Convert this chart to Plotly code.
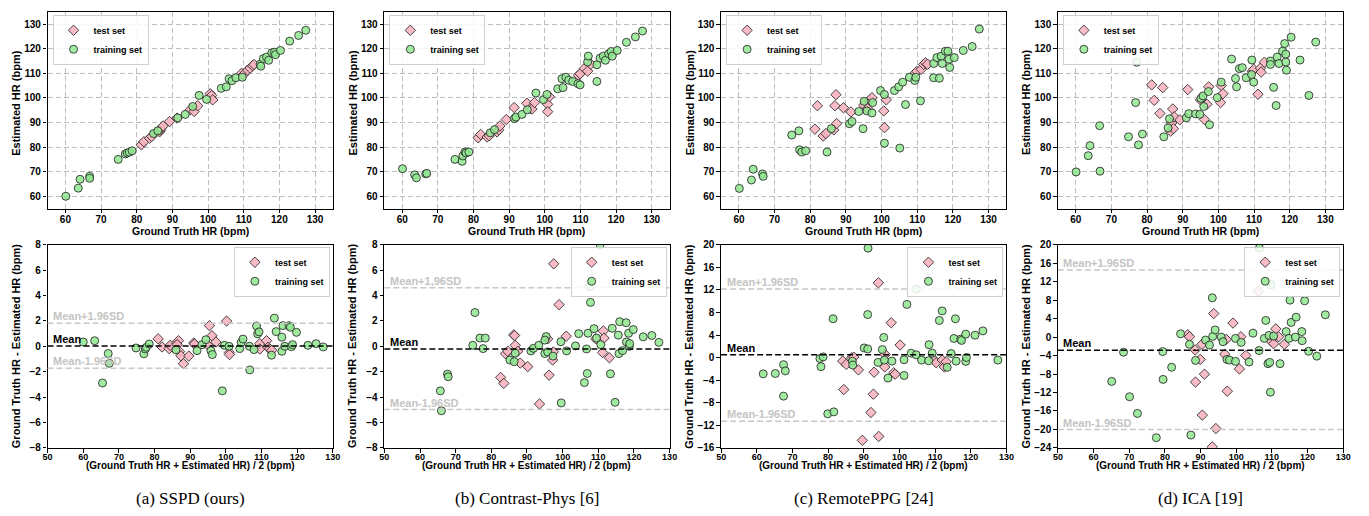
import plotly.graph_objects as go

W, H = 1369, 516

# ---------------- data: top row (Estimated vs Ground Truth) ----------------
a_test_gt = [81.3, 82.0, 83.6, 84.2, 86.4, 86.6, 86.9, 87.4, 89.2, 91.3, 95.0, 96.1, 97.1, 100.6, 101.0, 101.3, 109.4, 109.9, 111.1, 111.8, 112.5, 112.9]
a_test_est = [80.9, 82.2, 83.6, 84.3, 86.2, 86.9, 87.8, 88.6, 90.4, 91.8, 95.2, 94.5, 96.8, 101.7, 101.0, 99.2, 110.0, 109.4, 111.3, 112.1, 113.1, 113.6]
a_train_gt = [60.1, 63.6, 64.1, 66.8, 66.8, 74.8, 76.8, 77.3, 77.9, 78.7, 84.7, 85.9, 91.5, 93.6, 95.7, 97.5, 99.6, 103.7, 105.1, 105.9, 106.7, 107.8, 109.6, 114.6, 114.8, 115.5, 116.4, 117.0, 117.9, 118.6, 118.9, 120.3, 122.9, 125.4, 127.4]
a_train_est = [60.0, 63.3, 66.9, 68.1, 67.3, 75.0, 77.2, 77.6, 77.9, 78.5, 85.5, 86.6, 91.9, 93.3, 96.5, 101.0, 99.4, 103.9, 104.5, 107.8, 107.0, 108.2, 108.4, 113.7, 112.9, 116.0, 116.6, 115.3, 118.4, 118.6, 117.6, 119.3, 123.1, 125.4, 127.5]

b_test_gt = [81.3, 82.0, 83.8, 84.4, 86.6, 87.1, 87.4, 89.2, 91.4, 95.0, 95.9, 96.4, 97.1, 100.8, 100.8, 101.3, 109.4, 109.9, 111.1, 112.0, 112.9]
b_test_est = [83.8, 85.1, 84.1, 84.6, 86.2, 87.0, 88.6, 91.2, 96.1, 97.8, 95.7, 95.5, 98.1, 97.4, 94.4, 100.5, 109.2, 109.8, 112.0, 110.9, 113.7]
b_train_gt = [60.1, 63.5, 64.0, 66.6, 66.9, 74.8, 76.8, 77.0, 77.6, 77.9, 78.7, 84.7, 85.9, 91.5, 91.9, 93.6, 95.1, 97.5, 99.6, 100.6, 103.6, 104.8, 105.1, 105.9, 106.7, 107.8, 109.3, 109.9, 112.0, 112.2, 114.6, 114.6, 115.5, 116.4, 117.0, 117.9, 118.6, 118.9, 120.3, 122.9, 125.4, 127.4]
b_train_est = [71.2, 68.7, 67.5, 69.1, 69.3, 75.0, 74.2, 76.4, 78.0, 77.6, 78.0, 85.8, 87.1, 91.6, 92.2, 93.3, 95.2, 102.0, 99.3, 101.4, 103.7, 107.8, 104.2, 108.4, 107.2, 106.7, 105.8, 105.3, 114.6, 117.0, 113.5, 106.7, 116.2, 117.0, 115.3, 118.0, 118.9, 117.0, 119.3, 122.6, 124.8, 127.2]

c_test_gt = [81.3, 82.0, 83.6, 84.4, 86.6, 86.9, 87.2, 87.4, 89.3, 91.4, 95.0, 96.1, 96.8, 97.3, 100.6, 100.8, 101.3, 109.4, 109.9, 111.1, 111.8, 112.3, 112.9]
c_test_est = [87.3, 96.8, 84.5, 85.5, 87.0, 96.8, 101.3, 89.6, 96.0, 94.3, 97.1, 95.7, 99.2, 100.1, 94.7, 87.9, 99.2, 110.0, 110.8, 111.6, 113.6, 114.3, 113.7]
c_train_gt = [60.1, 63.5, 64.0, 66.6, 66.8, 74.8, 76.8, 77.0, 77.6, 78.7, 84.7, 85.9, 91.0, 91.7, 93.6, 94.8, 95.1, 95.9, 97.5, 97.3, 99.7, 100.8, 100.8, 103.6, 104.8, 105.1, 105.9, 106.7, 107.8, 109.3, 109.6, 110.9, 114.6, 114.6, 116.2, 115.5, 117.0, 116.7, 117.9, 118.6, 118.9, 119.1, 120.4, 122.9, 125.4, 127.4]
c_train_est = [63.2, 66.6, 71.0, 69.1, 68.1, 84.9, 86.6, 78.9, 78.0, 78.5, 78.0, 87.5, 89.5, 90.4, 94.5, 87.5, 98.6, 94.7, 98.1, 93.9, 103.0, 101.4, 81.6, 103.0, 104.5, 79.6, 106.4, 97.3, 108.4, 107.1, 108.4, 98.8, 108.2, 114.0, 108.0, 116.4, 114.0, 117.0, 119.0, 119.0, 115.7, 112.4, 116.4, 119.3, 120.9, 128.0]

d_test_gt = [81.3, 82.0, 83.6, 84.4, 86.6, 86.9, 87.2, 87.4, 87.6, 89.2, 91.4, 95.0, 96.1, 96.8, 97.3, 100.6, 100.8, 101.3, 109.5, 109.9, 111.1, 111.8, 112.0, 112.9]
d_test_est = [105.3, 99.0, 93.7, 104.2, 86.5, 89.8, 95.5, 87.5, 92.3, 91.1, 103.4, 99.2, 91.2, 97.4, 104.5, 98.1, 105.0, 101.7, 110.8, 111.6, 101.5, 112.1, 110.5, 114.5]
d_train_gt = [60.1, 63.5, 64.0, 66.7, 66.8, 74.8, 76.8, 77.1, 77.6, 78.7, 84.7, 85.9, 86.3, 91.0, 91.7, 93.6, 94.8, 95.1, 95.7, 95.9, 97.2, 97.5, 99.7, 100.8, 103.7, 104.8, 105.1, 105.9, 106.7, 107.8, 109.3, 109.4, 109.9, 114.6, 114.6, 115.5, 116.2, 116.5, 117.0, 118.0, 118.6, 118.9, 118.9, 119.1, 120.4, 122.9, 125.4, 127.3]
d_train_est = [69.9, 76.5, 80.6, 88.7, 70.2, 84.2, 98.1, 114.5, 80.9, 85.3, 84.2, 87.8, 91.5, 91.9, 93.6, 93.5, 93.3, 99.8, 100.8, 96.5, 102.6, 89.1, 100.1, 106.4, 115.8, 107.9, 104.5, 111.9, 112.3, 108.2, 109.5, 115.4, 106.4, 115.0, 113.6, 104.3, 96.9, 116.6, 114.0, 119.0, 122.1, 114.6, 117.8, 111.3, 124.7, 115.4, 101.0, 122.7]

# ---------------- data: bottom row (Bland-Altman) ----------------
a_ba_test_mean = [81.0, 82.1, 84.1, 84.4, 86.2, 86.7, 86.3, 87.0, 87.4, 88.1, 89.6, 91.0, 91.2, 94.8, 95.4, 96.1, 97.2, 100.2, 101.0, 101.0, 109.5, 109.5, 111.4, 111.8, 112.3, 112.9]
a_ba_test_diff = [0.59, -0.05, -0.18, 0.08, 0.26, 0.44, 0.13, -0.41, -0.75, -1.37, -0.77, 0.26, 0.18, 0.13, 1.63, 0.83, 0.34, 1.99, -0.49, -0.65, 0.21, -0.21, 0.44, -0.08, -0.21, -0.31]
a_ba_train_mean = [60.0, 63.2, 65.4, 67.0, 67.3, 74.8, 77.0, 77.4, 77.7, 78.5, 86.0, 91.9, 93.3, 94.4, 95.8, 96.2, 99.0, 99.6, 100.9, 103.9, 104.3, 104.8, 106.6, 106.7, 107.9, 108.6, 108.9, 109.3, 112.8, 113.6, 114.1, 115.7, 115.7, 116.0, 116.5, 117.7, 118.1, 118.4, 118.7, 119.8, 123.0, 125.3, 127.3]
a_ba_train_diff = [0.34, 0.44, -2.89, -0.57, -1.34, -0.13, -0.59, -0.21, -0.08, 0.18, -0.28, -0.34, 0.13, 0.52, -0.34, -0.65, -3.51, 0.08, 0.0, -0.18, 0.31, 0.57, 0.0, -1.86, -0.26, 1.6, 0.98, 1.14, -0.7, 2.22, 1.16, 0.72, -0.39, 1.63, 0.0, 1.63, 1.5, -0.03, 0.13, 1.1, 0.08, 0.21, -0.05]

b_ba_test_mean = [82.6, 83.5, 84.0, 84.6, 86.3, 86.5, 86.7, 87.4, 88.1, 90.2, 93.5, 95.8, 96.2, 97.2, 97.4, 97.5, 99.0, 101.0, 109.3, 111.2, 111.4, 111.6, 113.1]
b_ba_test_diff = [-2.45, -2.92, -0.59, -0.39, 0.9, 0.85, 0.08, -0.39, -1.32, -1.6, -4.54, 0.59, -2.27, -1.08, -0.44, 6.5, 3.28, 0.8, 0.59, -0.49, 1.21, 0.65, -0.9]
b_ba_train_mean = [65.7, 66.0, 67.7, 67.9, 74.8, 75.4, 76.8, 77.7, 78.3, 85.2, 86.4, 86.7, 91.1, 91.8, 93.3, 95.0, 95.4, 95.0, 95.8, 97.3, 99.5, 99.6, 101.1, 103.6, 104.5, 106.1, 106.7, 106.9, 107.1, 107.5, 107.8, 108.8, 109.5, 110.5, 110.7, 113.4, 113.9, 114.7, 115.6, 115.8, 116.0, 116.8, 117.8, 117.9, 118.5, 118.7, 118.8, 119.8, 122.6, 125.0, 127.0]
b_ba_train_diff = [-3.51, -5.08, -2.19, -2.4, 0.08, 2.66, 0.65, -0.18, 0.65, -1.08, -1.21, -0.54, -0.36, -0.16, 0.08, -0.57, 0.77, 0.49, -0.44, -0.77, 0.36, -4.46, -0.36, 0.03, 1.0, -2.86, -0.21, -2.14, 1.03, 4.7, 3.46, 1.39, 0.65, 8.0, 0.13, -2.17, 1.42, -4.41, 0.88, -0.57, 1.94, -0.34, 1.86, 0.34, 1.03, 0.0, 0.21, 1.32, 0.75, 0.85, 0.31]

c_ba_test_mean = [84.1, 84.4, 85.1, 86.6, 87.2, 88.5, 89.6, 92.0, 92.7, 92.9, 94.1, 94.2, 95.9, 96.0, 97.7, 98.4, 98.8, 100.2, 109.8, 110.3, 112.0, 112.6, 113.1]
c_ba_test_diff = [-0.62, -5.67, -1.2, -0.04, 0.08, -2.18, -14.67, -9.73, -6.48, -2.59, 13.26, -13.97, -1.66, 0.55, 6.18, -2.7, -2.94, 2.23, -0.44, -0.91, -0.44, -1.66, -0.73]
c_ba_train_mean = [61.8, 65.2, 67.5, 67.5, 68.0, 77.7, 78.0, 78.6, 79.9, 81.4, 81.6, 86.8, 86.9, 90.1, 91.1, 91.2, 91.1, 94.0, 95.2, 95.6, 95.8, 96.8, 97.9, 101.3, 101.3, 102.1, 103.3, 104.7, 104.8, 106.2, 108.3, 109.2, 108.2, 111.2, 112.0, 113.4, 114.5, 115.3, 115.7, 115.9, 117.2, 117.4, 118.6, 118.6, 118.8, 121.2, 123.4, 127.6]
c_ba_train_diff = [-2.88, -2.82, -1.25, -6.83, -2.36, -0.17, -1.6, 0.12, -9.97, 6.88, -9.62, -0.64, -1.31, 1.71, 1.53, 19.4, 7.63, -0.85, 1.42, 3.57, -0.44, -3.63, -0.62, -3.17, -0.38, 9.43, 0.78, 0.49, 12.1, -0.44, 2.29, 0.78, -0.56, 6.59, 8.27, -1.72, 0.72, 3.39, 6.88, -0.62, 3.28, 3.04, 4.15, -0.67, 0.02, 3.97, 4.73, -0.44]

d_ba_test_mean = [86.4, 86.9, 88.5, 88.6, 89.9, 90.4, 90.5, 91.1, 93.7, 93.3, 94.3, 96.8, 97.2, 97.5, 99.1, 100.9, 101.3, 102.7, 106.2, 109.8, 110.5, 111.1, 111.9, 113.5]
d_ba_test_diff = [0.5, 0.07, -2.78, -9.74, -4.84, -1.56, -16.9, -8.03, 5.1, -23.79, -19.82, -3.7, -0.5, -11.72, 3.04, -6.9, 0.07, -3.99, 9.92, -0.92, -1.42, 1.77, 0.07, -1.56]
d_ba_train_mean = [65.1, 68.4, 70.1, 72.3, 77.6, 79.4, 79.5, 81.9, 84.4, 86.9, 87.3, 88.6, 91.4, 92.5, 93.3, 93.4, 94.1, 95.8, 96.3, 97.4, 98.1, 99.8, 99.8, 101.4, 103.6, 104.7, 106.4, 106.5, 107.9, 108.3, 109.2, 108.9, 109.4, 109.8, 109.6, 110.5, 112.3, 114.0, 114.8, 115.1, 115.4, 116.6, 116.8, 118.4, 118.5, 119.2, 120.3, 122.6, 125.0]
d_ba_train_diff = [-9.6, -3.28, -12.93, -16.55, -21.8, -3.14, -9.17, -6.54, 0.71, -1.56, -21.23, -5.05, -0.64, -1.72, 8.5, 0.14, 1.55, 0.0, -1.0, -4.84, -4.98, -5.27, -0.28, -1.15, -5.4, 0.85, -2.92, 19.3, -0.28, 3.6, 0.35, -5.76, -5.48, 11.34, -11.94, 0.21, -5.76, 1.2, -0.28, 8.0, 3.18, 0.0, 4.32, 1.2, -0.78, 7.86, -3.07, -4.13, 4.83]

# Bland-Altman reference lines: mean, mean+1.96SD, mean-1.96SD
ba_mean = [0.03, -0.21, 0.49, -2.85]
ba_upper = [1.81, 4.62, 12.16, 14.53]
ba_lower = [-1.73, -4.98, -11.3, -20.03]
upper_labels = ["Mean+1.96SD", "Mean+1,96SD", "Mean+1.96SD", "Mean+1.96SD"]
lower_labels = ["Mean-1.96SD", "Mean-1,96SD", "Mean-1.96SD", "Mean-1.96SD"]

ba_yranges = [[-8, 8], [-8, 8], [-16, 20], [-24, 20]]
ba_dticks = [2, 2, 4, 4]
top_ticks = [60, 70, 80, 90, 100, 110, 120, 130]
bottom_xticks = [50, 60, 70, 80, 90, 100, 110, 120, 130]

captions = ["(a) SSPD (ours)", "(b) Contrast-Phys [6]", "(c) RemotePPG [24]", "(d) ICA [19]"]
series_names = ["test set", "training set"]

top_data = [
    (a_test_gt, a_test_est, a_train_gt, a_train_est),
    (b_test_gt, b_test_est, b_train_gt, b_train_est),
    (c_test_gt, c_test_est, c_train_gt, c_train_est),
    (d_test_gt, d_test_est, d_train_gt, d_train_est),
]
bottom_data = [
    (a_ba_test_mean, a_ba_test_diff, a_ba_train_mean, a_ba_train_diff),
    (b_ba_test_mean, b_ba_test_diff, b_ba_train_mean, b_ba_train_diff),
    (c_ba_test_mean, c_ba_test_diff, c_ba_train_mean, c_ba_train_diff),
    (d_ba_test_mean, d_ba_test_diff, d_ba_train_mean, d_ba_train_diff),
]

# ---------------- layout geometry (pixels) ----------------
col_left = [43, 383, 723, 1063]
plot_w = 288
top_y0, top_y1 = 7, 208
bot_y0, bot_y1 = 245, 452.5

def px(x):
    return x / W

def py(y):
    return 1 - y / H

FONT = "Liberation Sans, Arial, sans-serif"
SERIF = "Liberation Serif, Times New Roman, serif"
PINK = "rgba(248,180,192,0.9)"
GREEN = "rgba(144,232,144,0.85)"
EDGE = "rgba(40,40,40,0.85)"

fig = go.Figure()
layout = dict(
    width=W, height=H,
    margin=dict(l=0, r=0, t=0, b=0),
    paper_bgcolor="white", plot_bgcolor="white",
    font=dict(family=FONT, size=10, color="black"),
    annotations=[], shapes=[],
)

def axis_common(fs=10):
    return dict(
        showline=True, linecolor="black", linewidth=1.4, mirror=True,
        ticks="outside", ticklen=3.5, tickwidth=1, tickcolor="black",
        tickfont=dict(family=FONT, size=fs, color="black", weight="bold"),
        zeroline=False,
    )

for i in range(4):
    x0 = col_left[i]
    x1 = x0 + plot_w
    # ---------- top panel ----------
    n = i + 1
    xa = axis_common()
    xa.update(domain=[px(x0), px(x1)], range=[55, 135], tickvals=top_ticks,
              showgrid=True, gridcolor="#bdbdbd", gridwidth=1, griddash="5px,3px",
              anchor=f"y{n}", ticklabelstandoff=-2)
    ya = axis_common()
    ya.update(domain=[py(top_y1), py(top_y0)], range=[55, 135], tickvals=top_ticks,
              showgrid=True, gridcolor="#bdbdbd", gridwidth=1, griddash="5px,3px",
              anchor=f"x{n}")
    layout[f"xaxis{n}"] = xa
    layout[f"yaxis{n}"] = ya
    leg = "legend" if n == 1 else f"legend{n}"
    tg, te, rg, re_ = top_data[i]
    fig.add_trace(go.Scatter(x=tg, y=te, mode="markers", name=series_names[0],
                             xaxis=f"x{n}", yaxis=f"y{n}", legend=leg,
                             marker=dict(symbol="diamond", size=8, color=PINK,
                                         line=dict(color=EDGE, width=1))))
    fig.add_trace(go.Scatter(x=rg, y=re_, mode="markers", name=series_names[1],
                             xaxis=f"x{n}", yaxis=f"y{n}", legend=leg,
                             marker=dict(symbol="circle", size=8, color=GREEN,
                                         line=dict(color=EDGE, width=1))))
    layout[leg] = dict(x=px(x0 + 5), y=py(top_y0 + 3), xanchor="left", yanchor="top",
                       bgcolor="rgba(255,255,255,0.85)", bordercolor="#cfcfcf", borderwidth=1,
                       font=dict(family=FONT, size=9, color="black", weight="bold"),
                       tracegroupgap=0, itemwidth=30)

    # ---------- bottom panel ----------
    m = i + 5
    xb = axis_common(9)
    xb.update(domain=[px(x0), px(x1)], range=[50, 130], tickvals=bottom_xticks,
              showgrid=False, anchor=f"y{m}", ticklabelstandoff=-3)
    yb = axis_common()
    yb.update(domain=[py(bot_y1), py(bot_y0)], range=ba_yranges[i], dtick=ba_dticks[i],
              tick0=0, showgrid=False, anchor=f"x{m}")
    layout[f"xaxis{m}"] = xb
    layout[f"yaxis{m}"] = yb
    legb = f"legend{m}"
    bg, bd, rg2, rd2 = bottom_data[i]
    # reference lines
    layout["shapes"].append(dict(type="line", xref=f"x{m} domain", yref=f"y{m}",
                                 x0=0, x1=1, y0=ba_upper[i], y1=ba_upper[i],
                                 line=dict(color="#c8c8c8", width=1.5, dash="6px,3px")))
    layout["shapes"].append(dict(type="line", xref=f"x{m} domain", yref=f"y{m}",
                                 x0=0, x1=1, y0=ba_lower[i], y1=ba_lower[i],
                                 line=dict(color="#c8c8c8", width=1.5, dash="6px,3px")))
    layout["shapes"].append(dict(type="line", xref=f"x{m} domain", yref=f"y{m}",
                                 x0=0, x1=1, y0=ba_mean[i], y1=ba_mean[i],
                                 line=dict(color="black", width=1.5, dash="6px,3px")))
    fig.add_trace(go.Scatter(x=bg, y=bd, mode="markers", name=series_names[0],
                             xaxis=f"x{m}", yaxis=f"y{m}", legend=legb,
                             marker=dict(symbol="diamond", size=8, color=PINK,
                                         line=dict(color=EDGE, width=1))))
    fig.add_trace(go.Scatter(x=rg2, y=rd2, mode="markers", name=series_names[1],
                             xaxis=f"x{m}", yaxis=f"y{m}", legend=legb,
                             marker=dict(symbol="circle", size=8, color=GREEN,
                                         line=dict(color=EDGE, width=1))))
    layout[legb] = dict(x=px(x1 - 3), y=py(bot_y0 + 2), xanchor="right", yanchor="top",
                        bgcolor="rgba(255,255,255,0.85)", bordercolor="#cfcfcf", borderwidth=1,
                        font=dict(family=FONT, size=9, color="black", weight="bold"),
                        tracegroupgap=0, itemwidth=30)
    # line labels
    for val, txt, col in [(ba_upper[i], upper_labels[i], "#c4c4c4"),
                          (ba_mean[i], "Mean", "black"),
                          (ba_lower[i], lower_labels[i], "#c4c4c4")]:
        layout["annotations"].append(dict(
            xref=f"x{m}", yref=f"y{m}", x=51, y=val, text=txt, showarrow=False,
            xanchor="left", yanchor="bottom", yshift=-1,
            font=dict(family=FONT, size=11, color=col, weight="bold")))

    cx = px((x0 + x1) / 2)
    # axis titles
    layout["annotations"].append(dict(xref="paper", yref="paper", x=cx, y=py(231),
                                      text="Ground Truth HR (bpm)", showarrow=False,
                                      xanchor="center", yanchor="middle",
                                      font=dict(family=FONT, size=10.5, weight="bold")))
    layout["annotations"].append(dict(xref="paper", yref="paper", x=px(x0 - 32), y=py(100),
                                      text="Estimated HR (bpm)", showarrow=False, textangle=-90,
                                      xanchor="center", yanchor="middle",
                                      font=dict(family=FONT, size=11, weight="bold")))
    layout["annotations"].append(dict(xref="paper", yref="paper", x=cx, y=py(471),
                                      text="(Ground Truth HR + Estimated HR) / 2 (bpm)",
                                      showarrow=False, xanchor="center", yanchor="middle",
                                      font=dict(family=FONT, size=10, weight="bold")))
    layout["annotations"].append(dict(xref="paper", yref="paper", x=px(x0 - 32),
                                      y=py((bot_y0 + bot_y1) / 2),
                                      text="Ground Truth HR - Estimated HR (bpm)", showarrow=False,
                                      textangle=-90, xanchor="center", yanchor="middle",
                                      font=dict(family=FONT, size=11, weight="bold")))
    # caption
    layout["annotations"].append(dict(xref="paper", yref="paper", x=cx, y=py(504),
                                      text=captions[i], showarrow=False,
                                      xanchor="center", yanchor="middle",
                                      font=dict(family=SERIF, size=17, color="black")))

fig.update_layout(**layout)
fig.write_html("out.html", config={"displayModeBar": False},
               post_script="document.body.style.margin='0px';document.body.style.overflow='hidden';")
